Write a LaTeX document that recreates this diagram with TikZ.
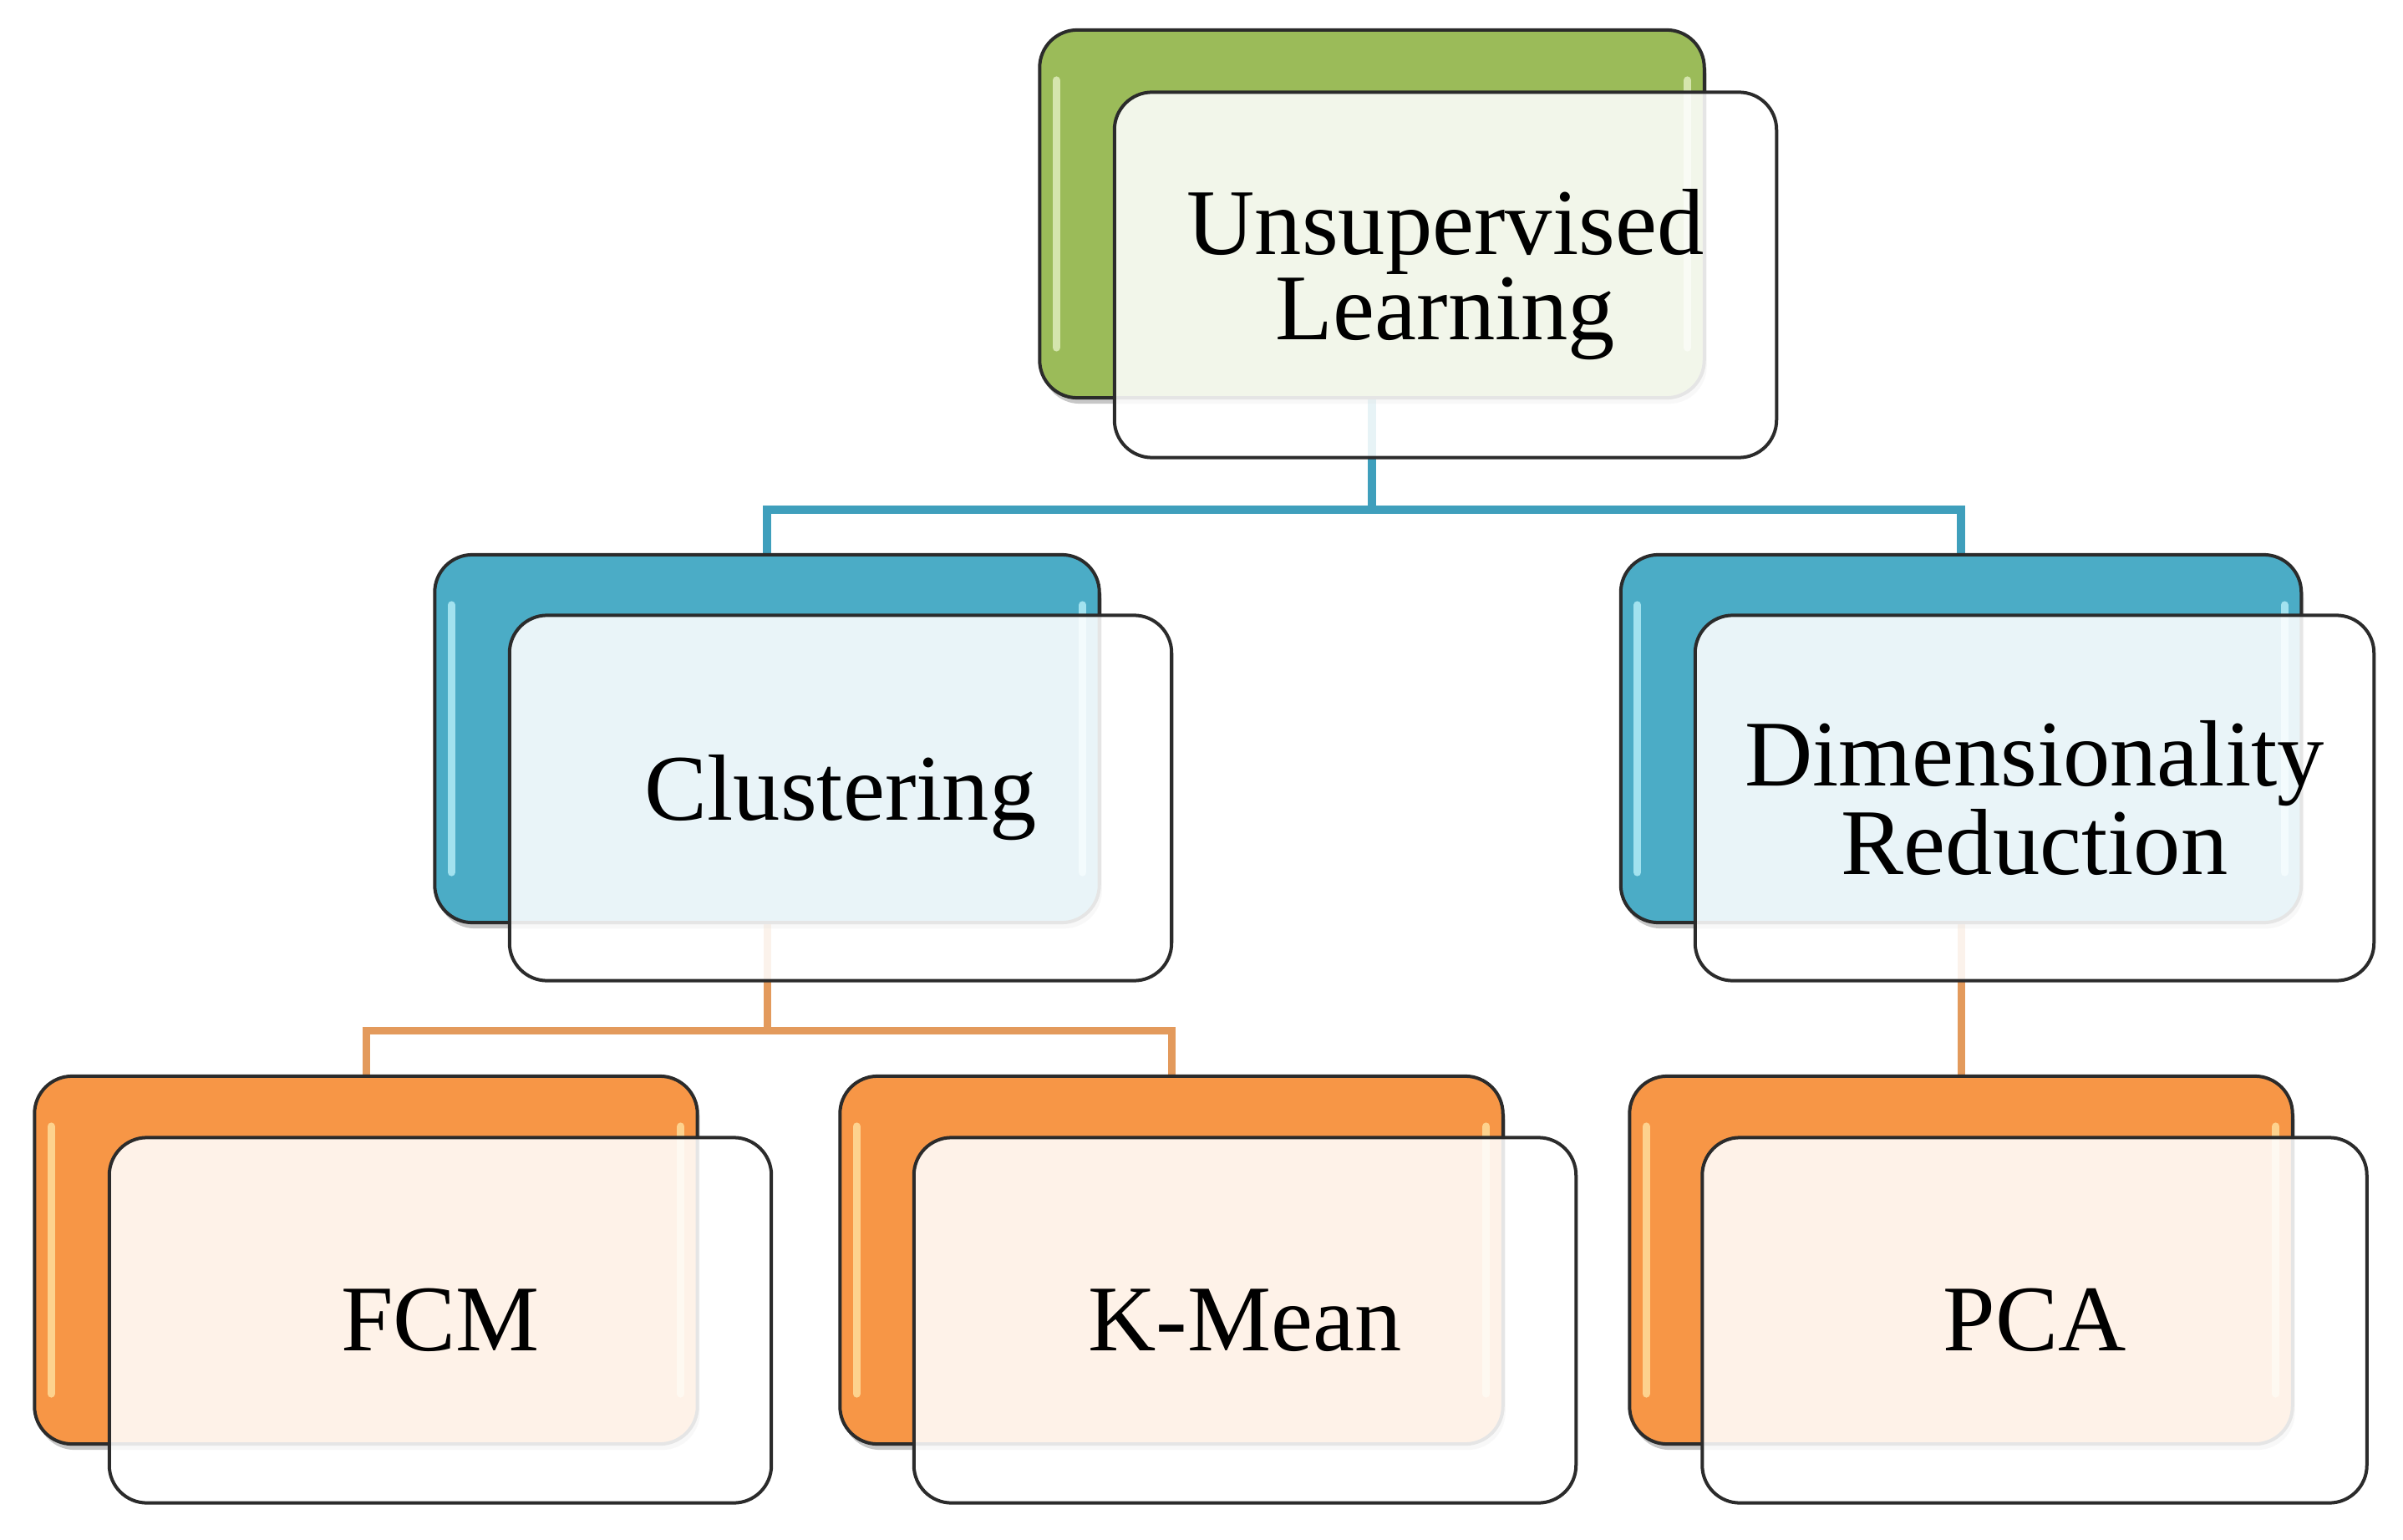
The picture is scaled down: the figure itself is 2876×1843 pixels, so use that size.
\documentclass[tikz,border=0pt]{standalone}
\usepackage{fontspec}
\setmainfont{Liberation Serif}
\usetikzlibrary{shadows,backgrounds}
\definecolor{grn}{HTML}{9BBB59}
\definecolor{grnhl}{HTML}{E4F0C2}
\definecolor{blu}{HTML}{4BACC6}
\definecolor{bluhl}{HTML}{B8F0FA}
\definecolor{org}{HTML}{F79646}
\definecolor{orghl}{HTML}{FFE2A0}
\definecolor{bluline}{HTML}{3F9FBC}
\definecolor{orgline}{HTML}{E39A5C}
\definecolor{edgec}{HTML}{2B2B2B}
\begin{document}
\begin{tikzpicture}[x=0.01cm,y=-0.01cm,
  backbox/.style n args={3}{draw=edgec, line width=0.04cm, rounded corners=0.45cm,
    minimum width=#3, minimum height=4.4cm, inner sep=0pt, fill=#1,
    drop shadow={shadow xshift=0.03cm, shadow yshift=-0.07cm, opacity=0.22, fill=black},
    path picture={
      \draw[#2, line width=0.09cm, line cap=round, opacity=0.8]
        ([xshift=0.2cm,yshift=-0.6cm]path picture bounding box.north west) --
        ([xshift=0.2cm,yshift=0.6cm]path picture bounding box.south west);
      \draw[#2, line width=0.09cm, line cap=round, opacity=0.8]
        ([xshift=-0.2cm,yshift=-0.6cm]path picture bounding box.north east) --
        ([xshift=-0.2cm,yshift=0.6cm]path picture bounding box.south east);
    }},
  frontbox/.style={draw=edgec, line width=0.04cm, rounded corners=0.45cm,
    minimum width=#1, minimum height=4.37cm, inner sep=0pt, fill=white,
    fill opacity=0.88, text opacity=1, align=center,
    font=\fontsize{32}{29}\selectfont},
  blueconn/.style={draw=bluline, line width=0.1cm},
  orgconn/.style={draw=orgline, line width=0.09cm}
]
\useasboundingbox (0,0) rectangle (2876,1843);

% top
\node[backbox={grn}{grnhl}{7.95cm}] (ulb) at (1642,256) {};
\node[frontbox=7.92cm] (ulf) at (1730,329) {Unsupervised\\Learning};

% middle
\node[backbox={blu}{bluhl}{7.95cm}] (clb) at (918,884) {};
\node[frontbox=7.92cm] (clf) at (1006,955) {Clustering};
\node[backbox={blu}{bluhl}{8.14cm}] (drb) at (2347,884) {};
\node[frontbox=8.12cm] (drf) at (2435,955) {Dimensionality\\Reduction};

% bottom
\node[backbox={org}{orghl}{7.93cm}] (fcmb) at (438,1508) {};
\node[frontbox=7.92cm] (fcmf) at (527,1580) {FCM};
\node[backbox={org}{orghl}{7.93cm}] (kmb) at (1402,1508) {};
\node[frontbox=7.92cm] (kmf) at (1490,1580) {K-Mean};
\node[backbox={org}{orghl}{7.93cm}] (pcab) at (2347,1508) {};
\node[frontbox=7.95cm] (pcaf) at (2435,1580) {PCA};

\coordinate (bus1) at (0,610);
\coordinate (bus2) at (0,1233);

\begin{scope}[on background layer]
\draw[blueconn] (ulb.south) -- (ulb.south |- bus1) -| (clb.north);
\draw[blueconn] (ulb.south |- bus1) -| (drb.north);
\draw[orgconn] (clb.south) -- (clb.south |- bus2) -| (fcmb.north);
\draw[orgconn] (clb.south |- bus2) -| (kmb.north);
\draw[orgconn] (drb.south) -- (pcab.north);
\end{scope}
\end{tikzpicture}
\end{document}
